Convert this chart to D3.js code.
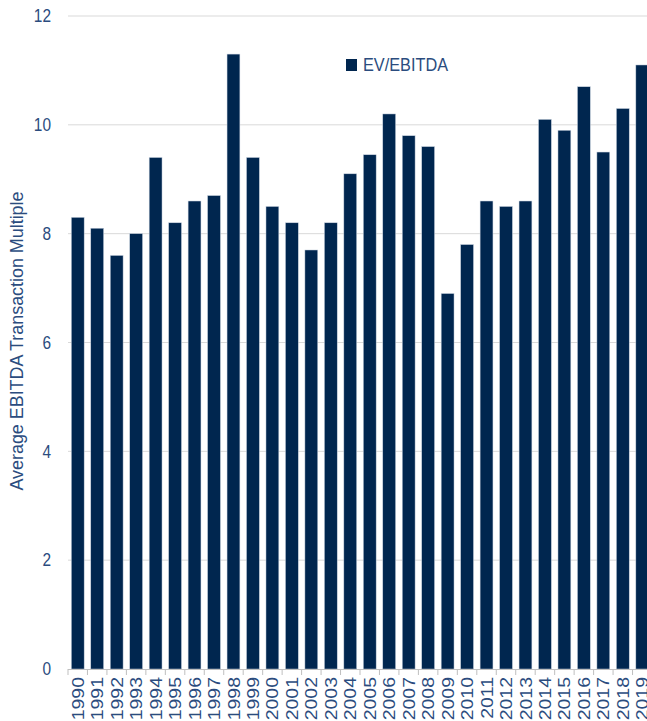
<!DOCTYPE html>
<html><head><meta charset="utf-8">
<script src="https://cdn.jsdelivr.net/npm/d3@7"></script>
<style>body{margin:0;background:#fff}</style>
</head><body>
<script>
const years = ["1990","1991","1992","1993","1994","1995","1996","1997","1998","1999","2000","2001","2002","2003","2004","2005","2006","2007","2008","2009","2010","2011","2012","2013","2014","2015","2016","2017","2018","2019"];
const evEbitda = [8.3,8.1,7.6,8.0,9.4,8.2,8.6,8.7,11.3,9.4,8.5,8.2,7.7,8.2,9.1,9.45,10.2,9.8,9.6,6.9,7.8,8.6,8.5,8.6,10.1,9.9,10.7,9.5,10.3,11.1];
const yTicks = [0,2,4,6,8,10,12];
const seriesName = "EV/EBITDA";
const yTitle = "Average EBITDA Transaction Multiple";

const W = 647, H = 721;
const textColor = "#2b4c7e", barColor = "#00264f";
const font = "'Liberation Sans', Arial, sans-serif";
const svg = d3.select("body").append("svg").attr("width", W).attr("height", H);

// stretch/squeeze text along its direction
function fit(sel, factor) {
  sel.each(function () {
    const w = this.getComputedTextLength();
    d3.select(this).attr("textLength", w * factor).attr("lengthAdjust", "spacingAndGlyphs");
  });
}

const x = d3.scaleBand().domain(years).range([68, 652]).paddingInner(0.34).paddingOuter(0.17);
const y = d3.scaleLinear().domain([0, 12]).range([669, 16]);

// gridlines
svg.append("g").selectAll("line").data(yTicks.filter(d => d > 0)).join("line")
  .attr("x1", 68).attr("x2", W).attr("y1", d => y(d)).attr("y2", d => y(d))
  .attr("stroke", "#d9d9d9").attr("stroke-width", 1);

// y labels
const yl = svg.append("g").selectAll("text").data(yTicks).join("text")
  .attr("x", 51).attr("y", d => y(d)).attr("dy", "0.36em")
  .attr("text-anchor", "end").attr("fill", textColor)
  .style("font-family", font).style("font-size", "17.5px").text(d => d);
fit(yl, 0.88);

// bars
svg.append("g").selectAll("rect").data(evEbitda).join("rect")
  .attr("x", (d, i) => x(years[i])).attr("width", x.bandwidth())
  .attr("y", d => y(d)).attr("height", d => y(0) - y(d))
  .attr("fill", barColor).attr("stroke", "#c9d3e0").attr("stroke-width", 0.5);

// x axis
const xb = d3.scaleBand().domain(years).range([68, 652]);
const ax = svg.append("g");
ax.append("line").attr("x1", 68).attr("x2", W).attr("y1", 669.5).attr("y2", 669.5)
  .attr("stroke", "#bfbfbf").attr("stroke-width", 1);
ax.selectAll("line.tk").data(years).join("line").attr("class", "tk")
  .attr("x1", d => xb(d)).attr("x2", d => xb(d)).attr("y1", 669).attr("y2", 675)
  .attr("stroke", "#bfbfbf").attr("stroke-width", 1);
const xl = ax.selectAll("text").data(years).join("text")
  .attr("transform", d => `translate(${xb(d) + xb.bandwidth() / 2},677) rotate(-90)`)
  .attr("text-anchor", "end").attr("dy", "0.36em").attr("fill", textColor)
  .style("font-family", font).style("font-size", "16.8px").text(d => d);
fit(xl, 1.16);

// y title
const yt = svg.append("text").attr("transform", "translate(16.5,341) rotate(-90)")
  .attr("text-anchor", "middle").attr("dy", "0.36em").attr("fill", textColor)
  .style("font-family", font).style("font-size", "17.5px").text(yTitle);
yt.attr("textLength", 299).attr("lengthAdjust", "spacingAndGlyphs");

// legend
svg.append("rect").attr("x", 346).attr("y", 59).attr("width", 11).attr("height", 12).attr("fill", barColor);
svg.append("text").attr("x", 363).attr("y", 65).attr("dy", "0.36em").attr("fill", textColor)
  .style("font-family", font).style("font-size", "17.5px").text(seriesName)
  .attr("textLength", 85).attr("lengthAdjust", "spacingAndGlyphs");
</script>
</body></html>
